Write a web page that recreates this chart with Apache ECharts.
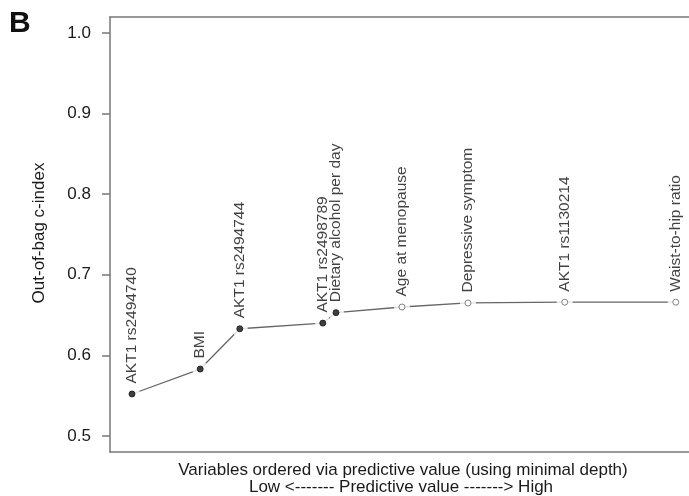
<!DOCTYPE html>
<html>
<head>
<meta charset="utf-8">
<script src="https://cdn.jsdelivr.net/npm/echarts@6/dist/echarts.min.js"></script>
<style>
  html, body { margin: 0; padding: 0; background: #fff; }
  #chart { width: 689px; height: 496px; }
</style>
</head>
<body>
<div id="chart"></div>
<script>
// Variables in order of predictive value (low -> high)
const variables = [
  'AKT1 rs2494740', 'BMI', 'AKT1 rs2494744', 'AKT1 rs2498789',
  'Dietary alcohol per day', 'Age at menopause', 'Depressive symptom',
  'AKT1 rs1130214', 'Waist-to-hip ratio'
];
// Position of each variable along the minimal-depth ordering
const depthPos = [0.40, 1.64, 2.36, 3.87, 4.11, 5.31, 6.51, 8.27, 10.29];
// Out-of-bag c-index after adding each variable
const cIndex = [0.552, 0.583, 0.633, 0.640, 0.653, 0.660, 0.665, 0.666, 0.666];
// Filled markers for the selected variables, open for the rest
const selected = [true, true, true, true, true, false, false, false, false];
const yTicks = [0.5, 0.6, 0.7, 0.8, 0.9, 1.0];
const yTickLabels = ['0.5', '0.6', '0.7', '0.8', '0.9', '1.0'];

const pts = depthPos.map((x, i) => [x, cIndex[i]]);
const font = '"Liberation Sans", Arial, sans-serif';

const chart = echarts.init(document.getElementById('chart'), null, { renderer: 'canvas' });
chart.setOption({
  backgroundColor: '#fff',
  animation: false,
  grid: { left: 110, top: 17, right: 0, bottom: 44 },
  xAxis: [
    {
      type: 'value', min: 0, max: 10.53, position: 'bottom',
      axisLine: { show: true, onZero: false, lineStyle: { color: '#777', width: 1.5 } },
      axisTick: { show: false }, axisLabel: { show: false }, splitLine: { show: false }
    },
    {
      type: 'value', min: 0, max: 10.53, position: 'top',
      axisLine: { show: true, onZero: false, lineStyle: { color: '#777', width: 1.5 } },
      axisTick: { show: false }, axisLabel: { show: false }, splitLine: { show: false }
    }
  ],
  yAxis: {
    type: 'value', min: 0.48, max: 1.02,
    axisLine: { show: true, onZero: false, lineStyle: { color: '#777', width: 1.5 } },
    axisTick: { show: true, length: 8, customValues: yTicks, lineStyle: { color: '#777', width: 1.5 } },
    axisLabel: {
      customValues: yTicks, margin: 19, fontFamily: font, fontSize: 17, color: '#1a1a1a',
      formatter: v => yTickLabels[yTicks.findIndex(t => Math.abs(t - v) < 1e-9)]
    },
    splitLine: { show: false }
  },
  series: [
    {
      type: 'line', data: pts, symbol: 'none', z: 1,
      lineStyle: { color: '#666', width: 1.3 }
    },
    {
      // white gap around each point, as in a "both" point-line plot
      type: 'scatter', data: pts, symbol: 'circle', symbolSize: 16, z: 2,
      itemStyle: { color: '#fff' }, silent: true
    },
    {
      type: 'scatter', z: 3,
      data: pts.map((p, i) => ({
        value: p,
        name: variables[i],
        itemStyle: selected[i]
          ? { color: '#111', borderColor: '#111', borderWidth: 1 }
          : { color: '#fff', borderColor: '#666', borderWidth: 1 }
      })),
      symbol: 'circle', symbolSize: 6,
      label: {
        show: true, position: 'top', distance: 7, rotate: 90,
        align: 'left', verticalAlign: 'middle',
        fontFamily: font, fontSize: 15.5, color: '#111',
        formatter: p => p.name
      }
    }
  ],
  graphic: [
    { type: 'text', left: 9, top: 9, style: { text: 'B', font: 'bold 30px ' + font, fill: '#111' } },
    { type: 'text', x: 39, y: 233, rotation: Math.PI / 2, style: { text: 'Out-of-bag c-index', font: '17px ' + font, fill: '#1a1a1a', textAlign: 'center', textVerticalAlign: 'middle' } },
    { type: 'text', x: 403, y: 470, style: { text: 'Variables ordered via predictive value (using minimal depth)', font: '17px ' + font, fill: '#1a1a1a', textAlign: 'center', textVerticalAlign: 'middle' } },
    { type: 'text', x: 401, y: 487, style: { text: 'Low <------- Predictive value -------> High', font: '17px ' + font, fill: '#1a1a1a', textAlign: 'center', textVerticalAlign: 'middle' } }
  ]
});
</script>
</body>
</html>
